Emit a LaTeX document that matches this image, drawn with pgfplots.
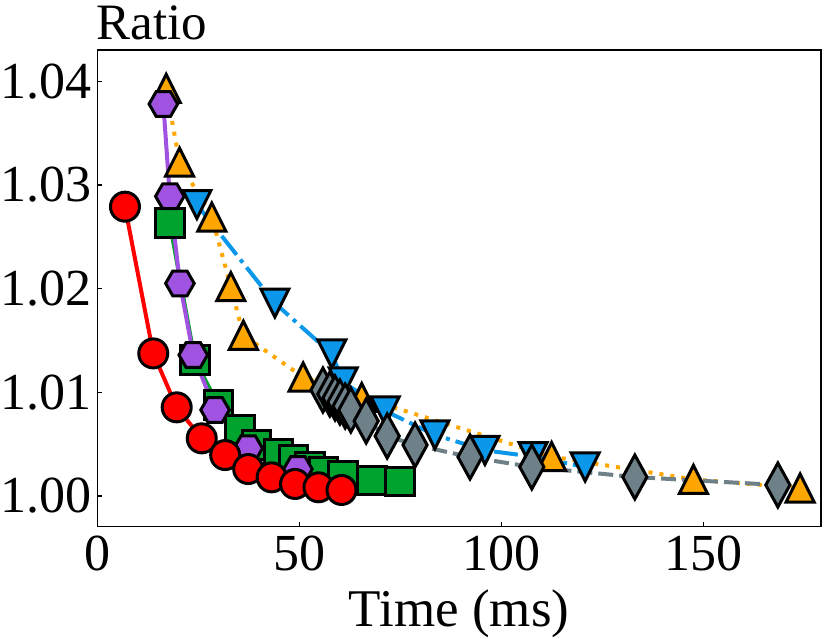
\documentclass[border=0pt]{standalone}
\usepackage{pgfplots}
\pgfplotsset{compat=1.18}
\usepackage{fontspec}
\setmainfont{Liberation Serif}
\definecolor{cred}{RGB}{255,0,0}
\definecolor{cgreen}{RGB}{0,163,46}
\definecolor{cpurple}{RGB}{160,82,224}
\definecolor{corange}{RGB}{255,166,0}
\definecolor{cblue}{RGB}{12,152,234}
\definecolor{cgray}{RGB}{110,128,136}
\pgfdeclareplotmark{mtriup}{%
  \pgfpathmoveto{\pgfqpoint{0pt}{\pgfplotmarksize}}%
  \pgfpathlineto{\pgfqpoint{-\pgfplotmarksize}{-\pgfplotmarksize}}%
  \pgfpathlineto{\pgfqpoint{\pgfplotmarksize}{-\pgfplotmarksize}}%
  \pgfpathclose\pgfusepathqfillstroke}
\pgfdeclareplotmark{mtridown}{%
  \pgfpathmoveto{\pgfqpoint{0pt}{-\pgfplotmarksize}}%
  \pgfpathlineto{\pgfqpoint{-\pgfplotmarksize}{\pgfplotmarksize}}%
  \pgfpathlineto{\pgfqpoint{\pgfplotmarksize}{\pgfplotmarksize}}%
  \pgfpathclose\pgfusepathqfillstroke}
\pgfdeclareplotmark{mhex}{%
  \pgfpathmoveto{\pgfpointpolar{0}{\pgfplotmarksize}}%
  \pgfpathlineto{\pgfpointpolar{60}{\pgfplotmarksize}}%
  \pgfpathlineto{\pgfpointpolar{120}{\pgfplotmarksize}}%
  \pgfpathlineto{\pgfpointpolar{180}{\pgfplotmarksize}}%
  \pgfpathlineto{\pgfpointpolar{240}{\pgfplotmarksize}}%
  \pgfpathlineto{\pgfpointpolar{300}{\pgfplotmarksize}}%
  \pgfpathclose\pgfusepathqfillstroke}
\pgfdeclareplotmark{mthind}{%
  \pgfpathmoveto{\pgfqpoint{0pt}{\pgfplotmarksize}}%
  \pgfpathlineto{\pgfqpoint{0.55\pgfplotmarksize}{0pt}}%
  \pgfpathlineto{\pgfqpoint{0pt}{-\pgfplotmarksize}}%
  \pgfpathlineto{\pgfqpoint{-0.55\pgfplotmarksize}{0pt}}%
  \pgfpathclose\pgfusepathqfillstroke}
\begin{document}
\begin{tikzpicture}
\path[use as bounding box] (-97.5pt,-112.3pt) rectangle (733.5pt,526.7pt);
\begin{axis}[
  at={(0pt,0pt)}, anchor=south west,
  scale only axis, width=723.2pt, height=476.7pt,
  xmin=0, xmax=179, ymin=0.99704, ymax=1.04301,
  clip=false,
  axis line style={line width=1.6pt, black},
  tick pos=left, tick align=inside,
  major tick length=5pt,
  every tick/.style={black, line width=1.2pt},
  xtick={0,50,100,150},
  ytick={1.00,1.01,1.02,1.03,1.04},
  /pgf/number format/assume math mode=true,
  yticklabel style={/pgf/number format/fixed, /pgf/number format/fixed zerofill, /pgf/number format/precision=2},
  scaled y ticks=false,
  tick label style={font=\fontsize{52}{52}\selectfont},
  xticklabel style={anchor=base, inner sep=0pt, yshift=-44pt},
  yticklabel style={anchor=east, inner sep=0pt, xshift=-5.5pt},
  every axis plot/.append style={line width=4pt},
]
% blue dash-dot, down triangles
\addplot[color=cblue, dash pattern=on 24pt off 6pt on 4pt off 6pt, mark=mtridown, mark size=14pt,
  mark options={solid, fill=cblue, draw=black, line width=3pt}] coordinates {
(24.6,1.0281) (43.9,1.0186) (58.0,1.0137) (60.8,1.0110) (71.2,1.0082) (83.5,1.0059) (95.9,1.0044) (107.8,1.0038) (120.7,1.0028)};
% orange dotted, up triangles
\addplot[color=corange, dash pattern=on 4pt off 7pt, mark=mtriup, mark size=14pt,
  mark options={solid, fill=corange, draw=black, line width=3pt}] coordinates {
(17.0,1.0393) (20.3,1.0322) (28.3,1.0269) (33.0,1.0202) (36.1,1.0155) (50.9,1.01147) (65.4,1.0095) (112.4,1.0038) (147.5,1.0016) (173.9,1.00077)};
% gray dashed, thin diamonds
\addplot[color=cgray, dash pattern=on 15pt off 6pt, mark=mthind, mark size=22pt,
  mark options={solid, fill=cgray, draw=black, line width=3pt}] coordinates {
(55.8,1.01022) (57.5,1.00983) (58.8,1.00945) (60.0,1.00906) (61.3,1.00867) (62.7,1.00829) (66.5,1.00723) (71.7,1.00578) (78.6,1.00492) (92.2,1.00376) (107.5,1.00280) (133.0,1.00183) (168.4,1.00106)};
% green squares
\addplot[color=cgreen, solid, mark=square*, mark size=14.3pt,
  mark options={fill=cgreen, draw=black, line width=3pt}] coordinates {
(17.9,1.0263) (24.1,1.0131) (29.9,1.00877) (35.3,1.0064) (39.4,1.0049) (44.8,1.0041) (48.5,1.0035) (52.6,1.0028) (55.9,1.0023) (60.8,1.0019) (67.9,1.0015) (74.9,1.0014)};
% purple hexagons
\addplot[color=cpurple, solid, mark=mhex, mark size=14.3pt,
  mark options={fill=cpurple, draw=black, line width=3pt}] coordinates {
(16.3,1.0378) (17.9,1.0289) (20.4,1.0205) (23.7,1.0136) (29.1,1.0083) (37.3,1.0046) (49.6,1.0026)};
% red circles
\addplot[color=cred, solid, mark=*, mark size=14.5pt,
  mark options={fill=cred, draw=black, line width=3pt}] coordinates {
(6.8,1.0279) (13.8,1.01375) (19.6,1.00855) (25.8,1.00556) (31.6,1.00395) (37.3,1.0026) (43.1,1.0018) (48.9,1.00116) (54.7,1.00084) (60.4,1.00058)};
\node[anchor=base west, inner sep=0pt, font=\fontsize{51}{51}\selectfont] at (rel axis cs:0,1) [yshift=10.5pt, xshift=-1pt] {Ratio};
\node[anchor=base, inner sep=0pt, font=\fontsize{53}{53}\selectfont] at (rel axis cs:0.5,0) [yshift=-100pt] {Time (ms)};
\end{axis}
\end{tikzpicture}
\end{document}
